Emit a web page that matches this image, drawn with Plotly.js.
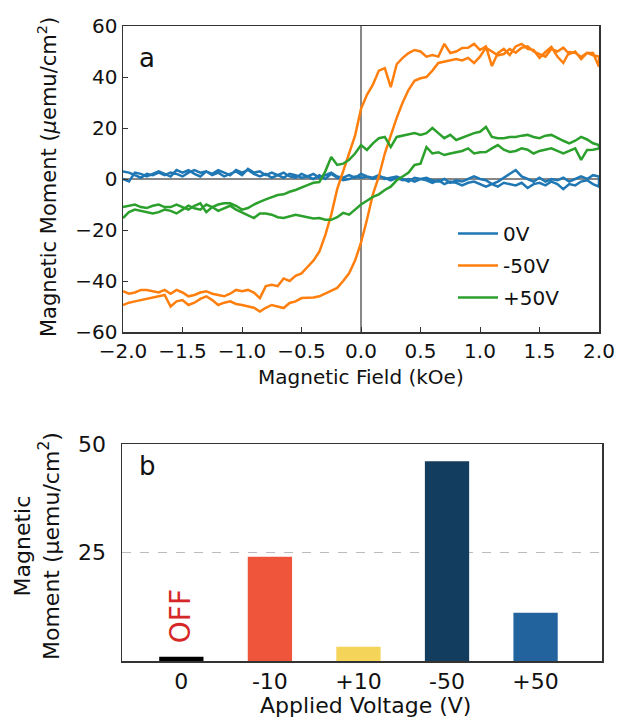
<!DOCTYPE html>
<html>
<head>
<meta charset="utf-8">
<script src="https://cdn.plot.ly/plotly-3.0.1.min.js"></script>
<style>html,body{margin:0;padding:0;background:#fff;}#chart{width:618px;height:717px;}</style>
</head>
<body>
<div id="chart"></div>
<script>
// Magnetic field (kOe), shared by every branch, ascending order
const field = [-2.00,-1.95,-1.90,-1.85,-1.80,-1.75,-1.70,-1.65,-1.60,-1.55,-1.50,-1.45,-1.40,-1.35,-1.30,-1.25,-1.20,-1.15,-1.10,-1.05,
  -1.00,-0.95,-0.90,-0.85,-0.80,-0.75,-0.70,-0.65,-0.60,-0.55,-0.50,-0.45,-0.40,-0.35,-0.30,-0.25,-0.20,-0.15,-0.10,-0.05,
  0.00,0.05,0.10,0.15,0.20,0.25,0.30,0.35,0.40,0.45,0.50,0.55,0.60,0.65,0.70,0.75,0.80,0.85,0.90,0.95,
  1.00,1.05,1.10,1.15,1.20,1.25,1.30,1.35,1.40,1.45,1.50,1.55,1.60,1.65,1.70,1.75,1.80,1.85,1.90,1.95,2.00];

// 0V branches (values listed in the field order)
const blueUp = [0,-1,2.5,2,1,2,3,2,1,3.5,2.5,3.5,2,1,3,2,3.5,2.5,1.5,3.5,
  2.5,3.5,2,1,2,0.5,1.5,2.5,1,0.5,2,1,0,1.5,0,2,0.5,-0.5,0,1,
  0.5,1,0,1,0.5,-0.5,0.5,-0.5,0,-1,0,-0.5,-1.5,-0.5,-2,-1,-1.5,-2.5,-1.5,-1,
  -2,-3,-2,-3,-1.5,-2,-2.5,-1.5,-3.5,-2,-1.5,-2.5,-1,-2,-4,-2,-2.5,-1,-0.5,-2,-3];
const blueDown = [3,2.5,1.5,0.5,2,1.5,2.5,1.5,2.5,2,1,2.5,3.5,2.5,3,1.5,2.5,1,2,3,
  1.5,4,2.5,3,1.5,2.5,1.5,0.5,2,1.5,0.5,1,2,0.5,1.5,2.5,1,0.5,1.5,0.5,
  2,1,0.5,1.5,0,0.5,1,0,-1,0.5,0,0.5,-0.5,-1,0,-1.5,-0.5,-1,0,1,
  0,-0.5,-2,-1,0.5,2,3.5,1,0,-1,0.5,-1,0,-0.5,0.5,-1,0,1,0,1.5,1];

// -50V branches
const orangeUp = [-49.4,-48.5,-48,-47.5,-47,-46.3,-46,-45.5,-50,-48,-47.5,-49.4,-48.5,-47,-46,-47.5,-49.4,-48.5,-48,-49,
  -49.4,-50,-50.5,-52,-50.5,-49.4,-50,-50.6,-48.6,-48,-46.7,-46.7,-46.5,-46,-45,-44,-42.7,-40,-37,-32,
  -25,-16,-6,1,10,17,24,30,35,38.5,39.5,40,42.5,45.5,46,46.5,47,46.5,47.5,45.5,
  48,51.5,50,48.5,49,51,49.5,51.5,52,50,49,48,51,50,51.5,49,50,47,49.5,48.5,48];
const orangeDown = [-44,-45,-44.5,-43.5,-43.5,-44,-44.5,-43.5,-45,-43.5,-44.5,-46,-45.5,-44.5,-44,-45,-45.5,-46,-45,-43.5,
  -44,-43.5,-44.5,-46.7,-42,-41.5,-42,-39,-40,-38,-37,-34.5,-32,-28.5,-22,-14,-4,3,10,17,
  27.5,33,37,42.5,43.5,36,45,47.5,49.4,50.6,50,48,48.6,48,53,49.4,50,51.4,51.5,53,
  50.6,52,44.3,49.4,51,48.6,52,53,51,50.6,47.5,49.8,51.8,48,45.5,49.8,49.5,47.8,49.5,49.4,44];

// +50V branches
const greenUp = [-15.3,-13,-12,-12.5,-13,-13.5,-13,-12,-12.5,-13.5,-12,-10.5,-11.5,-12,-10,-11,-12.5,-11.5,-10.5,-12,
  -13,-14,-15.3,-13.5,-13.5,-14,-15,-15.3,-14.5,-14,-14.5,-15,-15.5,-15.3,-16,-16,-15,-13.3,-14,-12,
  -10,-8.5,-7,-6,-4.3,-3,-0.5,1,2.5,5.5,6,12.5,10,10.5,9.4,10,10.6,11,12,10,
  10.5,10.6,12,13.3,11.5,10.6,11,12,11.5,10,11,11.4,12,11,10,11,12,7.5,11.4,11.5,12];
const greenDown = [-11,-10.5,-10,-11,-11.4,-10.5,-10,-11,-11,-10,-11,-12,-10.5,-9.5,-13,-11,-10,-9.5,-9.5,-10.5,
  -12,-11.4,-10,-9,-8,-7,-6.3,-6,-5,-4.3,-3.5,-2.4,-1.5,-1.2,3,8.6,5.5,6,7.5,10,
  13.3,11.4,14,16,16.5,12.5,16.5,17,17.5,18,17.3,18,20,18,16,17.3,15.3,16,17,18,
  18.5,20.4,16.5,16,16,16.5,16.5,17,17.3,16.5,16,17,17.3,16,15,14,15,16.5,15.5,14,13.3];

const seriesNames = ['0V','-50V','+50V'];
const seriesColors = ['#1f77b4','#ff7f0e','#2ca02c'];

// Panel b
const voltages = ['0','-10','+10','-50','+50'];
const moments = [1.0, 24.0, 3.3, 46.0, 11.1];
const barColors = ['#000000','#ef553b','#f5d45a','#123d5e','#22639e'];

function loop(up, down) {
  const back = field.slice().reverse();
  return {x: field.concat(back), y: up.concat(down.slice().reverse())};
}
const branches = [[blueUp, blueDown],[orangeUp, orangeDown],[greenUp, greenDown]];
const font = 'DejaVu Sans, Verdana, sans-serif';

const traces = branches.map((b, i) => {
  const l = loop(b[0], b[1]);
  return {type:'scatter', mode:'lines', x:l.x, y:l.y, name:seriesNames[i], legendgroup:'g'+i,
    line:{color:seriesColors[i], width:2.5}, xaxis:'x', yaxis:'y'};
});
traces.push({type:'bar', x:voltages, y:moments, width:0.5, marker:{color:barColors},
  xaxis:'x2', yaxis:'y2', showlegend:false, hoverinfo:'x+y'});

const W = 618, H = 717;
const px = v => v / W, py = v => 1 - v / H;
const axBase = {showline:true, mirror:true, linecolor:'#333', linewidth:1.5, showgrid:false,
  tickfont:{family:font, size:20, color:'#111'}, automargin:false};

function note(text, x, y, size, extra) {
  return Object.assign({text:text, x:px(x), y:py(y), xref:'paper', yref:'paper', showarrow:false,
    xanchor:'center', yanchor:'middle', font:{family:font, size:size, color:'#111'}}, extra || {});
}

const layout = {
  width:W, height:H, margin:{l:0,r:0,t:0,b:0}, paper_bgcolor:'#fff', plot_bgcolor:'#fff',
  font:{family:font, color:'#111'},
  xaxis: Object.assign({}, axBase, {domain:[px(123), px(599)], range:[-2,2], dtick:0.5, tickformat:'.1f',
    ticks:'inside', ticklen:5, tickcolor:'#333', zeroline:true, zerolinecolor:'#888', zerolinewidth:1.5, anchor:'y'}),
  yaxis: Object.assign({}, axBase, {domain:[py(332), py(26)], range:[-60,60], dtick:20,
    ticks:'inside', ticklen:5, tickcolor:'#333', zeroline:true, zerolinecolor:'#888', zerolinewidth:1.5, anchor:'x'}),
  xaxis2: Object.assign({}, axBase, {domain:[px(122), px(602)], type:'category', range:[-0.67, 4.75],
    ticks:'', anchor:'y2', tickfont:{family:font, size:22, color:'#111'}}),
  yaxis2: Object.assign({}, axBase, {domain:[py(661), py(444)], range:[0,50], tickvals:[25,50],
    ticks:'', showgrid:true, griddash:'dash', gridcolor:'#bbb', gridwidth:1, zeroline:false,
    ticklabelstandoff:10, anchor:'x2', tickfont:{family:font, size:22, color:'#111'}}),
  legend:{x:px(453), y:py(214), xanchor:'left', yanchor:'top', bgcolor:'rgba(0,0,0,0)',
    traceorder:'grouped', tracegroupgap:3, itemwidth:40,
    font:{family:font, size:20, color:'#111'}},
  annotations:[
    note('Magnetic Field (kOe)', 361, 377, 20),
    note('Magnetic Moment (<i>μ</i>emu/cm<sup>2</sup>)', 47, 177, 21, {textangle:-90}),
    note('a', 147, 58, 26),
    note('b', 147, 466, 26),
    note('Applied Voltage (V)', 365, 705, 22),
    note('Magnetic<br>Moment (μemu/cm<sup>2</sup>)', 37, 546, 22, {textangle:-90}),
    {text:'OFF', x:0, y:10.4, xref:'x2', yref:'y2', showarrow:false, textangle:-90,
      xanchor:'center', yanchor:'middle', font:{family:font, size:28, color:'#d62728'}}
  ]
};

Plotly.newPlot('chart', traces, layout, {displayModeBar:false, staticPlot:true});
</script>
</body>
</html>
